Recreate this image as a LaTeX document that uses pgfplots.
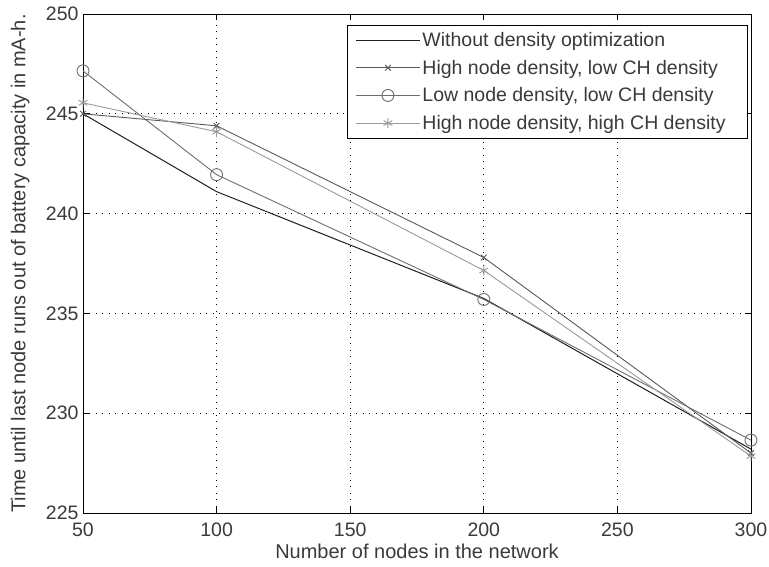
\documentclass[border=0pt]{standalone}
\usepackage{pgfplots}
\pgfplotsset{compat=1.18}
\usepackage{fontspec}
\setmainfont{Liberation Sans}

\definecolor{txt}{HTML}{3A3A3A}
\definecolor{serA}{HTML}{1E1E1E}
\definecolor{serB}{HTML}{5A5A5A}
\definecolor{serC}{HTML}{6E6E6E}
\definecolor{serD}{HTML}{9A9A9A}

\begin{document}
\begin{tikzpicture}
\useasboundingbox (-83pt,-53pt) rectangle (686pt,513pt);
\begin{axis}[
  scale only axis,
  width=668pt, height=499pt,
  xmin=50, xmax=300, ymin=225, ymax=250,
  xtick={50,100,150,200,250,300},
  ytick={225,230,235,240,245,250},
  axis line style={black, line width=0.8pt},
  tick style={black, line width=0.8pt},
  major tick length=6pt,
  tick align=inside,
  grid=major,
  grid style={black, line width=0.7pt, dash pattern=on 0.9pt off 5.6pt},
  /pgf/number format/assume math mode=true,
  ticklabel style={font=\fontsize{19.5}{22}\selectfont, text=txt},
  xticklabel style={yshift=-6pt},
  yticklabel style={xshift=-1pt},
  label style={font=\fontsize{20}{24}\selectfont, text=txt},
  xlabel={Number of nodes in the network},
  ylabel={Time until last node runs out of battery capacity in mA-h.},
  xlabel style={at={(axis description cs:0.5,-0.077)}, anchor=center},
  ylabel style={at={(axis description cs:-0.094,0.5)}, anchor=center},
  legend cell align=left,
  legend style={
    at={(0.9955,0.978)}, anchor=north east,
    draw=black, line width=0.8pt,
    font=\fontsize{19.5}{22}\selectfont,
    text=txt,
    row sep=8pt,
    inner xsep=8pt, inner ysep=5pt,
  },
  legend image code/.code={%
    \draw[mark repeat=2,mark phase=2] plot coordinates {(0pt,0pt) (32pt,0pt) (64pt,0pt)};%
  },
]
\addplot[serA, line width=1pt, mark=none]
  coordinates {(50,245.0) (100,241.1) (200,235.75) (300,228.2)};
\addlegendentry{Without density optimization}

\addplot[serB, line width=0.9pt, mark=x, mark size=4pt, mark options={solid}]
  coordinates {(50,245.0) (100,244.4) (200,237.8) (300,228.0)};
\addlegendentry{High node density, low CH density}

\addplot[serC, line width=0.9pt, mark=o, mark size=6pt, mark options={solid}]
  coordinates {(50,247.15) (100,241.95) (200,235.7) (300,228.65)};
\addlegendentry{Low node density, low CH density}

\addplot[serD, line width=0.9pt, mark=asterisk, mark size=5pt, mark options={solid}]
  coordinates {(50,245.55) (100,244.1) (200,237.15) (300,227.85)};
\addlegendentry{High node density, high CH density\hspace*{12pt}}
\end{axis}
\end{tikzpicture}
\end{document}
